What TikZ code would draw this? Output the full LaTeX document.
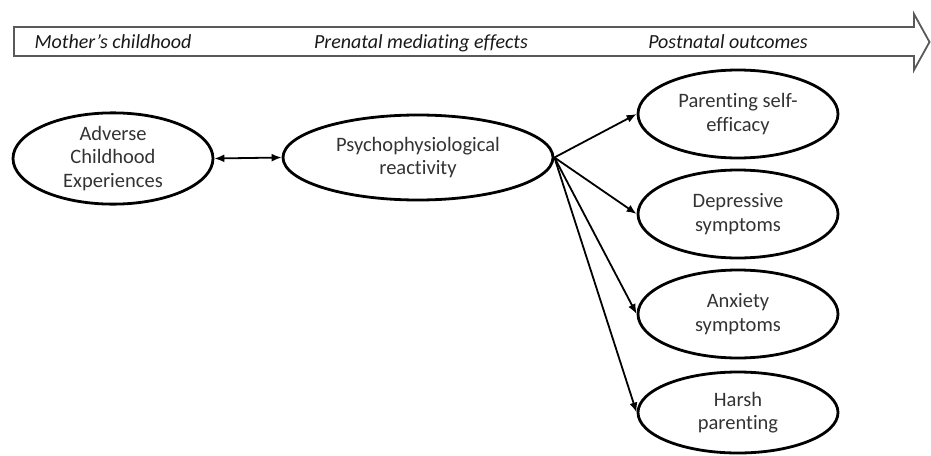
\documentclass[tikz,border=0pt]{standalone}
\usepackage{fontspec}
\setmainfont{Carlito}[Ligatures=NoCommon]
\usetikzlibrary{arrows.meta,shapes.geometric}

\begin{document}
\begin{tikzpicture}[
x=1pt, y=-1pt,
factor/.style={
  draw,
  ellipse,
  line width=2.8pt,
  inner sep=0pt,
  text=black!80,
  align=center,
  font=\fontsize{20.5}{23.5}\selectfont
  },
outcome/.style={
  factor,
  minimum width=200pt,
  minimum height=88pt
  },
phase/.style={
  anchor=base,
  text=black!90,
  font=\fontsize{20}{23}\selectfont\itshape
  },
link/.style={
  line width=1.8pt
  },
>={Latex[length=10pt,width=8pt]}
]
\useasboundingbox (0,0) rectangle (931,455);

% time line
\draw[line width=1.8pt, draw=black!65, line join=miter]
  (14,27) -- (914,27) -- (914,14) -- (929.5,42) -- (914,70) -- (914,56) -- (14,56) -- cycle;
\node[phase] (childhood) at (113,48.5) {Mother’s childhood};
\node[phase] (prenatal) at (421,48.5) {Prenatal mediating effects};
\node[phase] (postnatal) at (728,48.5) {Postnatal outcomes};

\node[factor, minimum width=200pt, minimum height=87pt] (ace) at (113,158.5)
  {Adverse\\Childhood\\Experiences};
\node[factor, minimum width=270pt, minimum height=85pt] (react) at (418,157.5)
  {Psychophysiological\\reactivity};

\foreach \lbl [count=\i] in {{Parenting self-\\efficacy},{Depressive\\symptoms},
                            {Anxiety\\symptoms}}
  \node[outcome] (out\i) at (738,14+100*\i) {\lbl};
\node[outcome, minimum height=81pt] (out4) at (738,412.5) {Harsh\\parenting};

\draw[link,<->] (ace.east) -- (react.west);
\foreach \i in {1,...,4}
  \draw[link,->] (react.east) -- (out\i.west);

\end{tikzpicture}
\end{document}
